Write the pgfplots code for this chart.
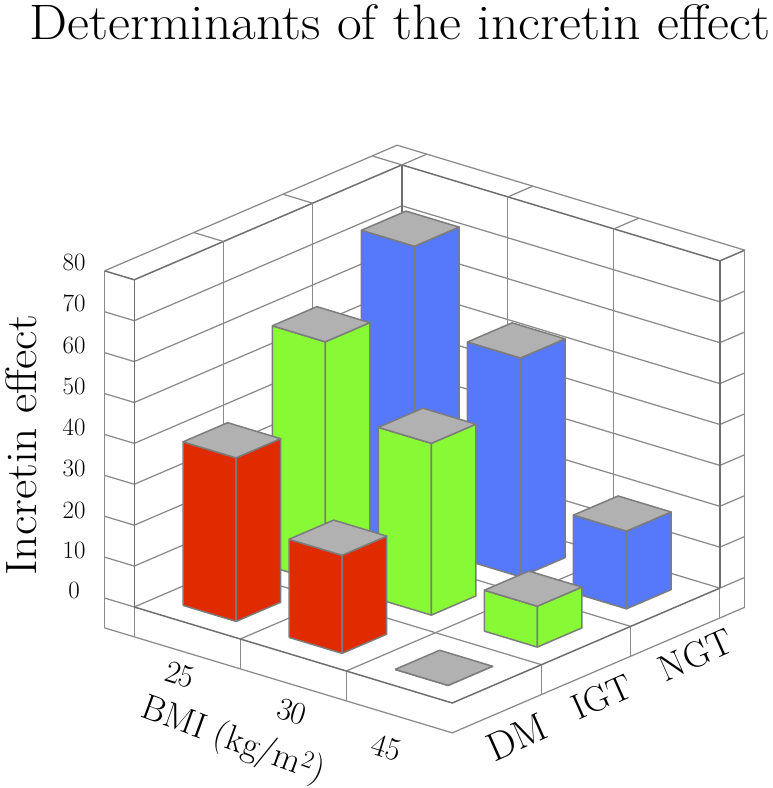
\documentclass[border=0pt]{standalone}
\usepackage{pgfplots}
\pgfplotsset{compat=1.18}

\definecolor{barred}{HTML}{E02B00}
\definecolor{bargreen}{HTML}{88F935}
\definecolor{barblue}{HTML}{5678FA}
\definecolor{bartop}{HTML}{B1B1B1}
\definecolor{baredge}{HTML}{7C7C7C}
\definecolor{gridc}{HTML}{8A8A8A}
\definecolor{gridd}{HTML}{6E6E6E}

% x0 x1 y0 y1 height colour: left face, right face, top
\newcommand{\barbox}[6]{
	\addplot3[fill=#6, draw=baredge, line width=1.5pt, line join=round] coordinates {(#1,#3,0) (#2,#3,0) (#2,#3,#5) (#1,#3,#5) (#1,#3,0)};
	\addplot3[fill=#6, draw=baredge, line width=1.5pt, line join=round] coordinates {(#2,#3,0) (#2,#4,0) (#2,#4,#5) (#2,#3,#5) (#2,#3,0)};
	\addplot3[fill=bartop, draw=baredge, line width=1.5pt, line join=round] coordinates {(#1,#3,#5) (#2,#3,#5) (#2,#4,#5) (#1,#4,#5) (#1,#3,#5)};
}

\begin{document}
\begin{tikzpicture}[x=1bp,y=1bp,every node/.append style={inner sep=0pt, outer sep=0pt}]
\useasboundingbox (0,0) rectangle (773,788);

\begin{axis}[
	anchor=origin,
	at={(231.85bp,184.15bp)},
	x={(106bp,-32bp)},
	y={(89.2bp,38.3bp)},
	z={(0bp,4.09bp)},
	xmin=-0.78, xmax=2.5,
	ymin=-0.5, ymax=2.78,
	zmin=-7.3, zmax=80,
	hide axis,
	clip=false,
	wall/.style={draw=gridc, line width=1.25pt, mark=none},
	edge/.style={draw=gridd, line width=1.5pt, mark=none},
]

% horizontal grid on the walls
\pgfplotsinvokeforeach{10,20,...,70}{
	\addplot3[wall] coordinates {(-0.78,-0.5,#1) (-0.5,-0.5,#1) (-0.5,2.5,#1) (2.5,2.5,#1) (2.5,2.78,#1)};
}
\addplot3[wall] coordinates {(-0.78,-0.5,0) (-0.5,-0.5,0) (-0.5,2.5,0) (2.5,2.5,0) (2.5,2.78,0)};
\addplot3[edge] coordinates {(-0.78,-0.5,80) (-0.5,-0.5,80) (-0.5,2.5,80) (2.5,2.5,80) (2.5,2.78,80)};

% uprights
\pgfplotsinvokeforeach{0.5,1.5}{
	\addplot3[wall] coordinates {(-0.5,#1,0) (-0.5,#1,80)};
	\addplot3[wall] coordinates {(#1,2.5,0) (#1,2.5,80)};
	% floor
	\addplot3[wall] coordinates {(#1,-0.5,0) (#1,2.5,0)};
	\addplot3[wall] coordinates {(-0.5,#1,0) (2.5,#1,0)};
	% slab
	\addplot3[wall] coordinates {(#1,-0.5,-7.3) (#1,-0.5,0)};
	\addplot3[wall] coordinates {(2.5,#1,-7.3) (2.5,#1,0)};
	% top strip
	\addplot3[wall] coordinates {(-0.78,#1,80) (-0.5,#1,80)};
	\addplot3[wall] coordinates {(#1,2.5,80) (#1,2.78,80)};
}
\addplot3[edge] coordinates {(-0.5,2.5,0) (-0.5,2.5,80)};
\addplot3[wall] coordinates {(-0.78,-0.5,-7.3) (-0.78,-0.5,80)};
\addplot3[wall] coordinates {(-0.5,-0.5,-7.3) (-0.5,-0.5,0)};
\addplot3[edge] coordinates {(-0.5,-0.5,0) (-0.5,-0.5,80)};
\addplot3[wall] coordinates {(2.5,2.5,-7.3) (2.5,2.5,0)};
\addplot3[edge] coordinates {(2.5,2.5,0) (2.5,2.5,80)};
\addplot3[wall] coordinates {(2.5,2.78,-7.3) (2.5,2.78,80)};
\addplot3[wall] coordinates {(-0.78,-0.5,80) (-0.78,2.78,80) (2.5,2.78,80)};
\addplot3[wall] coordinates {(-0.5,2.5,80) (-0.5,2.78,80)};
\addplot3[wall] coordinates {(-0.78,2.5,80) (-0.5,2.5,80)};
\addplot3[wall] coordinates {(-0.78,-0.5,-7.3) (2.5,-0.5,-7.3) (2.5,2.78,-7.3)};
\addplot3[edge] coordinates {(-0.5,-0.5,0) (2.5,-0.5,0) (2.5,2.5,0)};

% bars, back to front
\barbox{-0.25}{0.25}{1.75}{2.25}{73}{barblue}
\barbox{-0.25}{0.25}{0.75}{1.25}{59}{bargreen}
\barbox{0.75}{1.25}{1.75}{2.25}{53.5}{barblue}
\barbox{-0.25}{0.25}{-0.25}{0.25}{40}{barred}
\barbox{0.75}{1.25}{0.75}{1.25}{42}{bargreen}
\barbox{1.75}{2.25}{1.75}{2.25}{19}{barblue}
\barbox{0.75}{1.25}{-0.25}{0.25}{24}{barred}
\barbox{1.75}{2.25}{0.75}{1.25}{10}{bargreen}
\barbox{1.75}{2.25}{-0.25}{0.25}{0}{barred}

\end{axis}

\node[font=\fontsize{50}{50}\selectfont, xscale=1.08] at (400,766) {Determinants of the incretin effect};
\node[font=\fontsize{44}{44}\selectfont, rotate=90, xscale=1.08] at (21,343) {Incretin effect};
\begin{scope}[every node/.append style={font=\fontsize{25}{25}\selectfont}]
\node at (74,526) {80};
\node at (74,485) {70};
\node at (74,443) {60};
\node at (74,402) {50};
\node at (74,361) {40};
\node at (74,320) {30};
\node at (74,278) {20};
\node at (74,238) {10};
\node at (74,198) {0};
\end{scope}
\node[font=\fontsize{32}{32}\selectfont, rotate=-17] at (180,113) {25};
\node[font=\fontsize{32}{32}\selectfont, rotate=-17] at (292,76) {30};
\node[font=\fontsize{32}{32}\selectfont, rotate=-17] at (387,40) {45};
\node[font=\fontsize{36}{36}\selectfont, rotate=-20] at (233,47) {BMI (kg/m$^2$)};
\node[font=\fontsize{40}{40}\selectfont, rotate=24] at (517,51) {DM};
\node[font=\fontsize{36}{36}\selectfont, rotate=24] at (602,91) {IGT};
\node[font=\fontsize{37}{37}\selectfont, rotate=24] at (696,133) {NGT};
\end{tikzpicture}
\end{document}
